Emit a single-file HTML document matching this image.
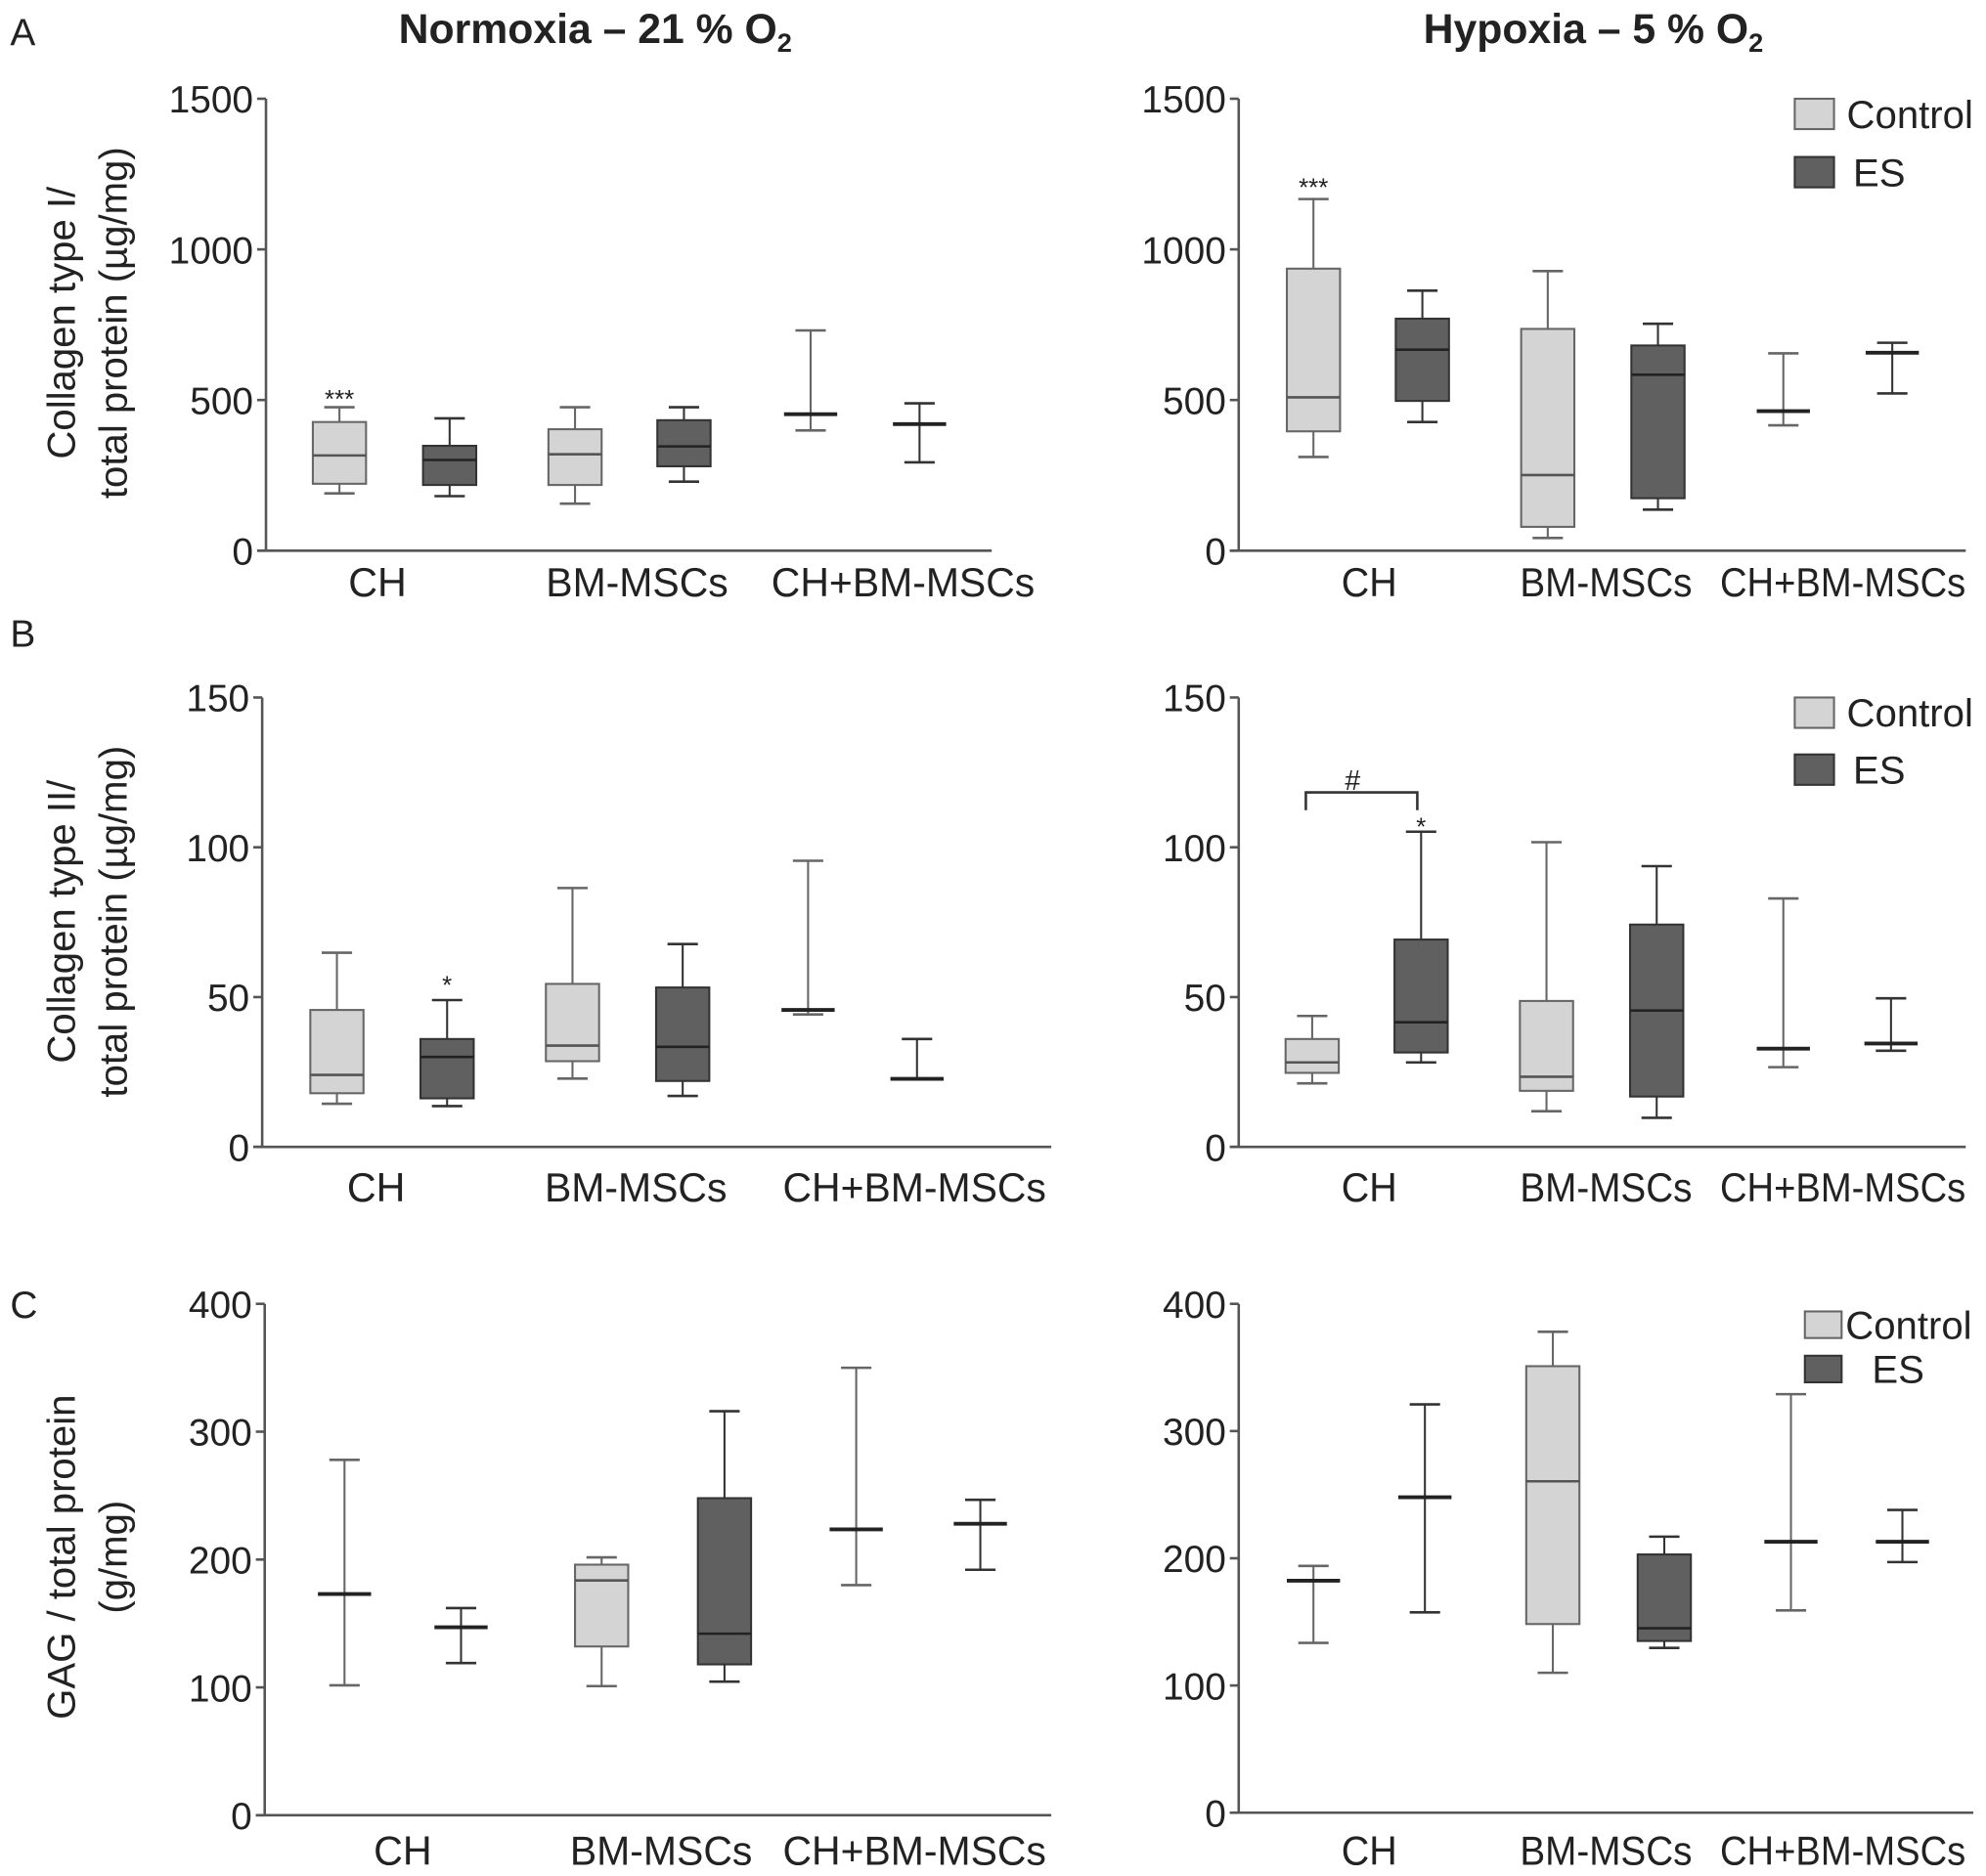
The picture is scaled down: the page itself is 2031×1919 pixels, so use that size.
<!DOCTYPE html>
<html><head><meta charset="utf-8"><style>
html,body{margin:0;padding:0;background:#fff;}
svg{display:block;}
text{font-family:"Liberation Sans",Arial,sans-serif;fill:#222;}
</style></head><body>
<svg id="fig" width="2031" height="1919" viewBox="0 0 1568 1482" preserveAspectRatio="none" xmlns="http://www.w3.org/2000/svg">
<text x="8" y="36" font-size="30">A</text>
<text x="8" y="511" font-size="30">B</text>
<text x="8" y="1041" font-size="30">C</text>
<text x="470" y="34" font-size="33" font-weight="bold" text-anchor="middle">Normoxia – 21 % O<tspan font-size="21" dy="7">2</tspan></text>
<text x="1258" y="34" font-size="33" font-weight="bold" text-anchor="middle">Hypoxia – 5 % O<tspan font-size="21" dy="7">2</tspan></text>
<g transform="translate(59,255) rotate(-90)"><text font-size="31" text-anchor="middle">Collagen type I/</text><text y="41" font-size="31" text-anchor="middle">total protein (µg/mg)</text></g>
<g transform="translate(59,728) rotate(-90)"><text font-size="31" text-anchor="middle">Collagen type II/</text><text y="41" font-size="31" text-anchor="middle">total protein (µg/mg)</text></g>
<g transform="translate(59,1230) rotate(-90)"><text font-size="31" text-anchor="middle">GAG / total protein</text><text y="41" font-size="31" text-anchor="middle">(g/mg)</text></g>
</svg>
<script>
// Data: each entry = [min, q1, median, q3, max]
const categories = ["CH", "BM-MSCs", "CH+BM-MSCs"];
const aNormControl = [[190,222,316,427,476],[156,218,320,403,476],[399,453,453,453,731]];
const aNormES      = [[181,218,301,348,439],[229,280,346,433,476],[293,420,420,420,489]];
const aHypControl  = [[311,396,509,936,1167],[42,79,251,736,928],[416,463,463,463,655]];
const aHypES       = [[427,497,667,770,863],[136,174,584,681,753],[522,657,657,657,690]];
const bNormControl = [[14.4,17.9,24,45.7,64.8],[22.8,28.6,33.8,54.4,86.4],[44.2,45.7,45.7,45.7,95.5]];
const bNormES      = [[13.6,16.2,30,36,49],[17,22,33.4,53.2,67.7],[22.7,22.7,22.7,22.7,36]];
const bHypControl  = [[21.2,24.7,28.2,36,43.7],[11.9,18.7,23.4,48.7,101.7],[26.6,32.8,32.8,32.8,82.9]];
const bHypES       = [[28.2,31.5,41.6,69.2,105.2],[9.7,16.8,45.5,74.2,93.7],[32.1,34.5,34.5,34.5,49.6]];
const cNormControl = [[101.6,173,173,173,278],[101,132,183.6,196,201.7],[180,223.6,223.6,223.6,350]];
const cNormES      = [[119,147,147,147,162],[104.5,118,142,248,316],[192,228,228,228,246.7]];
const cHypControl  = [[133.5,182.4,182.4,182.4,194],[110,148.3,260.5,351,378],[159,213,213,213,329]];
const cHypES       = [[157.5,248,248,248,321],[129.5,135,145,203,217],[197,213,213,213,238]];
const ticksA = [0,500,1000,1500];
const ticksB = [0,50,100,150];
const ticksC = [0,100,200,300,400];

const NS = "http://www.w3.org/2000/svg";
const svg = document.getElementById("fig");
function mk(tag, attrs, parent){ const e=document.createElementNS(NS,tag); for(const k in attrs) e.setAttribute(k,attrs[k]); (parent||svg).appendChild(e); return e; }

const labelLenLeft = [46,144,208];
const labelLenRight = [44,136,194];

const panels = [
 {id:"a-normoxia", ctrl:aNormControl, es:aNormES, ticks:ticksA, ax:210, y0:435, yT:78, xEnd:783, cx:[268,454,640], ex:[355,540,726], lx:[298,503,713], ly:471, ll:labelLenLeft, legend:null},
 {id:"a-hypoxia", ctrl:aHypControl, es:aHypES, ticks:ticksA, ax:978, y0:435, yT:78, xEnd:1552, cx:[1037,1222,1408], ex:[1123,1309,1494], lx:[1081,1268,1455], ly:471, ll:labelLenRight, legend:[1417,78,1448,102,124,148,1458,1463]},
 {id:"b-normoxia", ctrl:bNormControl, es:bNormES, ticks:ticksB, ax:207, y0:906, yT:551, xEnd:830, cx:[266,452,638], ex:[353,539,724], lx:[297,502,722], ly:949, ll:labelLenLeft, legend:null},
 {id:"b-hypoxia", ctrl:bHypControl, es:bHypES, ticks:ticksB, ax:978, y0:906, yT:551, xEnd:1552, cx:[1036,1221,1408], ex:[1122,1308,1493], lx:[1081,1268,1455], ly:949, ll:labelLenRight, legend:[1417,551,1448,575,596,620,1458,1463]},
 {id:"c-normoxia", ctrl:cNormControl, es:cNormES, ticks:ticksC, ax:209, y0:1434, yT:1030, xEnd:830, cx:[272,475,676], ex:[364,572,774], lx:[318,522,722], ly:1473, ll:labelLenLeft, legend:null},
 {id:"c-hypoxia", ctrl:cHypControl, es:cHypES, ticks:ticksC, ax:978, y0:1432, yT:1030, xEnd:1558, cx:[1037,1226,1414], ex:[1125,1314,1502], lx:[1081,1268,1455], ly:1473, ll:labelLenRight, legend:[1425,1036,1454,1057,1071,1092,1457,1478]}
];

panels.forEach(p=>{
  const max = p.ticks[p.ticks.length-1];
  const y = v => p.y0 - (v/max)*(p.y0-p.yT);
  const g = mk("g",{});
  
  
  const yax = mk("line",{x1:p.ax,y1:p.yT,x2:p.ax,y2:p.y0,stroke:"#555","stroke-width":2},g);
  
  
  const xax = mk("line",{x1:p.ax-7,y1:p.y0,x2:p.xEnd,y2:p.y0,stroke:"#555","stroke-width":2},g);
  
  
  p.ticks.forEach(t=>{
    mk("line",{x1:p.ax-7,y1:y(t),x2:p.ax,y2:y(t),stroke:"#555","stroke-width":2},g);
    const tl = mk("text",{x:p.ax-10,y:y(t)+11,"font-size":30,"text-anchor":"end"},g);
    tl.textContent = t;
    
    
  });
  categories.forEach((c,i)=>{
    const xl = mk("text",{x:p.lx[i]-p.ll[i]/2,y:p.ly,"font-size":32,textLength:p.ll[i],lengthAdjust:"spacingAndGlyphs"},g);
    xl.textContent = c;
    
    
    [[p.ctrl[i],p.cx[i],"#d4d4d4","#666"],[p.es[i],p.ex[i],"#606060","#333"]].forEach(([d,cx,fill,st],k)=>{
      const bg = mk("g",{},g);
      
      
      const hw=21, cap=12;
      mk("line",{x1:cx,y1:y(d[0]),x2:cx,y2:y(d[4]),stroke:st,"stroke-width":1.6},bg);
      mk("line",{x1:cx-cap,y1:y(d[4]),x2:cx+cap,y2:y(d[4]),stroke:st,"stroke-width":2},bg);
      mk("line",{x1:cx-cap,y1:y(d[0]),x2:cx+cap,y2:y(d[0]),stroke:st,"stroke-width":2},bg);
      if (d[3]-d[1] > 0.001*max) {
        mk("rect",{x:cx-hw,y:y(d[3]),width:2*hw,height:y(d[1])-y(d[3]),fill:fill,stroke:st,"stroke-width":1.6},bg);
        mk("line",{x1:cx-hw,y1:y(d[2]),x2:cx+hw,y2:y(d[2]),stroke:k===0?"#555":"#222","stroke-width":2},bg);
      } else {
        mk("line",{x1:cx-hw,y1:y(d[2]),x2:cx+hw,y2:y(d[2]),stroke:"#222","stroke-width":3},bg);
      }
    });
  });
  if (p.legend){
    const L=p.legend;
    const lg = mk("g",{},g);
    
    
    mk("rect",{x:L[0],y:L[1],width:L[2]-L[0],height:L[3]-L[1],fill:"#d4d4d4",stroke:"#666","stroke-width":1.6},lg);
    mk("rect",{x:L[0],y:L[4],width:L[2]-L[0],height:L[5]-L[4],fill:"#606060",stroke:"#333","stroke-width":1.6},lg);
    const t1 = mk("text",{x:L[6],y:(L[1]+L[3])/2+11,"font-size":31},lg); t1.textContent="Control";
    
    
    const t2 = mk("text",{x:L[7],y:(L[4]+L[5])/2+11,"font-size":31},lg); t2.textContent="ES";
    
    
  }
});

function note(txt,x,yy,size,name){ const t=mk("text",{x:x,y:yy,"font-size":size,"text-anchor":"middle"}); t.textContent=txt;
  
   }
note("***",268,322,20,"significance-a-normoxia");
note("***",1037,155,20,"significance-a-hypoxia");
note("*",353,785,20,"significance-b-normoxia");
note("*",1122,660,20,"significance-b-hypoxia");
note("#",1068,624,22,"hash-b-hypoxia");
const br = mk("path",{d:"M1031 640 L1031 626 L1119 626 L1119 640",fill:"none",stroke:"#333","stroke-width":2});


</script>
</body></html>
